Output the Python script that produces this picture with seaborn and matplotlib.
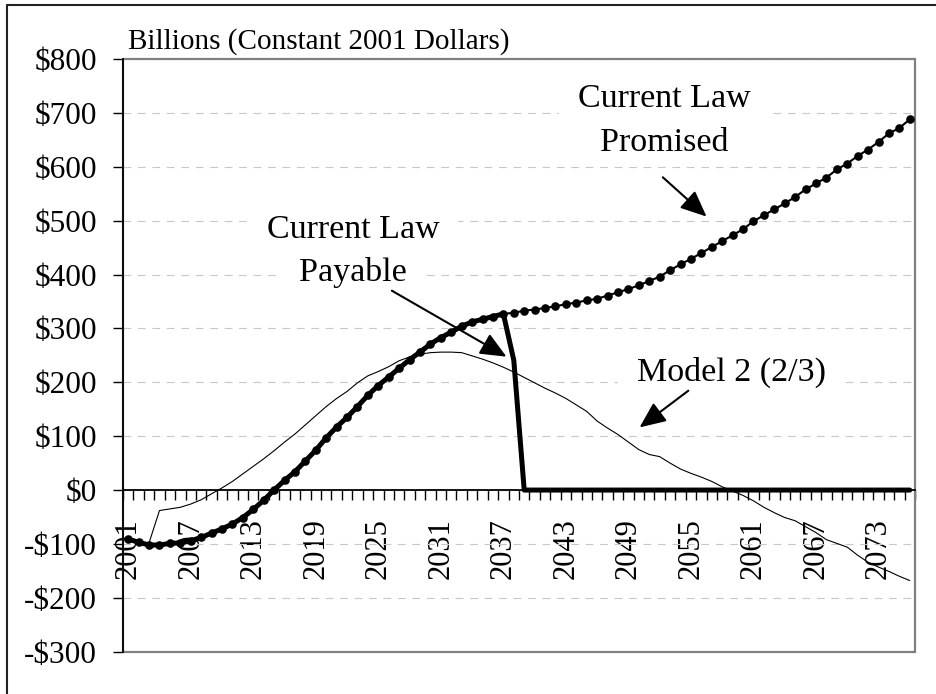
import matplotlib
matplotlib.use("Agg")
import matplotlib.pyplot as plt
import pandas as pd
import seaborn as sns
from matplotlib.lines import Line2D
from matplotlib.patches import Rectangle
from matplotlib.ticker import FixedLocator, FixedFormatter

# ---------------- data ----------------
years = list(range(2001, 2077))

promised = [
    -91, -97, -102, -102, -99, -98, -94, -88, -80, -72,
    -63, -51, -36, -19, 0, 18, 34, 54, 74, 97,
    117, 135, 155, 176, 194, 210, 226, 242, 256, 271,
    283, 293, 304, 312, 317, 322, 327, 329, 333, 335,
    338, 341, 345, 348, 352, 355, 361, 367, 373, 380,
    388, 396, 408, 419, 429, 440, 451, 462, 473, 484,
    499, 510, 521, 532, 544, 558, 569, 580, 595, 606,
    620, 632, 646, 662, 672, 688,
]

payable = [
    -91, -97, -102, -102, -99, -98, -94, -88, -80, -72,
    -63, -51, -36, -19, 0, 18, 34, 54, 74, 97,
    117, 135, 155, 176, 194, 210, 226, 242, 256, 271,
    283, 293, 304, 312, 317, 322, 327, 241, 0, 0,
    0, 0, 0, 0, 0, 0, 0, 0, 0, 0,
    0, 0, 0, 0, 0, 0, 0, 0, 0, 0,
    0, 0, 0, 0, 0, 0, 0, 0, 0, 0,
    0, 0, 0, 0, 0, 0,
]

model2 = [
    -91, -96, -98, -38, -35, -32, -26, -18, -7, 4,
    16, 30, 44, 58, 73, 89, 104, 121, 138, 155,
    170, 183, 199, 212, 220, 229, 240, 247, 252, 255,
    256, 256, 255, 249, 243, 236, 228, 219, 209, 199,
    189, 180, 170, 158, 146, 128, 115, 103, 89, 75,
    66, 62, 50, 39, 31, 24, 16, 6, -2, -10,
    -20, -32, -42, -51, -57, -68, -79, -92, -99, -106,
    -121, -134, -143, -151, -160, -168,
]

y_ticks = [800, 700, 600, 500, 400, 300, 200, 100, 0, -100, -200, -300]
y_tick_labels = ["$800", "$700", "$600", "$500", "$400", "$300", "$200",
                 "$100", "$0", "-$100", "-$200", "-$300"]
x_label_years = [2001, 2007, 2013, 2019, 2025, 2031, 2037, 2043, 2049,
                 2055, 2061, 2067, 2073]

title_text = "Billions (Constant 2001 Dollars)"

# ---------------- style ----------------
sns.set_style("white")
plt.rcParams["font.family"] = ["Liberation Serif", "DejaVu Serif"]

W, H = 937, 694
fig = plt.figure(figsize=(W / 100, H / 100), dpi=100)
ax = fig.add_axes([123 / W, 1 - 651.7 / H, 792 / W, (651.7 - 59) / H])

df = pd.DataFrame({"year": years, "promised": promised,
                   "payable": payable, "model2": model2})

sns.lineplot(data=df, x="year", y="model2", color="black", lw=0.8,
             ax=ax, zorder=4, legend=False)
sns.lineplot(data=df, x="year", y="payable", color="black", lw=3.6,
             solid_capstyle="round", solid_joinstyle="round",
             ax=ax, zorder=5, legend=False)
sns.lineplot(data=df, x="year", y="promised", color="black", lw=1.5,
             marker="o", markersize=6.2, markeredgecolor="black",
             markeredgewidth=0, ax=ax, zorder=6, legend=False)

ax.set_xlim(years[0] - 0.5, years[-1] + 0.5)
ax.set_ylim(-300, 800)
ax.set_xlabel("")
ax.set_ylabel("")

# spines / frame
for s in ["top", "right"]:
    ax.spines[s].set_visible(False)
ax.spines["left"].set_color("black")
ax.spines["left"].set_linewidth(1.3)
ax.spines["left"].set_zorder(7)
ax.spines["bottom"].set_position(("data", 0))
ax.spines["bottom"].set_color("black")
ax.spines["bottom"].set_linewidth(1.3)
ax.add_patch(Rectangle((0, 0), 1, 1, transform=ax.transAxes, fill=False,
                       edgecolor="#808080", lw=1.6, clip_on=False, zorder=1))

# grid
ax.set_axisbelow(True)
ax.yaxis.grid(True, color="#c8c8c8", linestyle=(0, (7, 6)), lw=0.8)
ax.xaxis.grid(False)

# y ticks
ax.yaxis.set_major_locator(FixedLocator(y_ticks))
ax.yaxis.set_major_formatter(FixedFormatter(y_tick_labels))
ax.tick_params(axis="y", which="major", left=True, direction="out",
               length=7.2, width=1.0, pad=11.5, labelsize=22.5,
               color="black", labelcolor="black")

# x ticks: labels at categories, tick marks between categories
ax.xaxis.set_major_locator(FixedLocator(x_label_years))
ax.xaxis.set_major_formatter(FixedFormatter([str(y) for y in x_label_years]))
ax.xaxis.set_minor_locator(FixedLocator([y - 0.5 for y in years] + [years[-1] + 0.5]))
ax.tick_params(axis="x", which="major", bottom=True, length=0, pad=20,
               labelsize=22, labelrotation=90, labelcolor="black")
ax.tick_params(axis="x", which="minor", bottom=True, direction="out",
               length=7.2, width=1.0, color="black")

# ---------------- annotations ----------------
box = dict(facecolor="white", edgecolor="none", boxstyle="square,pad=0.05")
txt_kw = dict(ha="center", va="baseline", fontsize=24.5, color="black",
              bbox=box, zorder=3)

ax.text(2052.45, 710.5, "  Current Law  ", **txt_kw)
ax.text(2052.45, 628.8, "  Promised  ", **txt_kw)
ax.text(2022.6, 468.0, "  Current Law  ", **txt_kw)
ax.text(2022.6, 388.7, "  Payable  ", **txt_kw)
ax.text(2058.9, 203.0, "  Model 2 (2/3)  ", **txt_kw)

arrow = dict(arrowstyle="-|>,head_length=0.8,head_width=0.35", color="black",
             lw=1.5, mutation_scale=20, shrinkA=0, shrinkB=0)
ax.annotate("", xy=(2056.5, 507.5), xytext=(2052.3, 580.5),
            arrowprops=arrow, zorder=8)
ax.annotate("", xy=(2037.3, 247.5), xytext=(2026.3, 370.0),
            arrowprops=arrow, zorder=8)
ax.annotate("", xy=(2050.07, 116.2), xytext=(2054.75, 184.4),
            arrowprops=arrow, zorder=8)

# title text
fig.text(128 / W, 1 - 48.3 / H, title_text, ha="left", va="baseline",
         fontsize=21, color="black")

# outer border (top and left visible)
fig.add_artist(Line2D([7.5 / W, 1], [1 - 5 / H, 1 - 5 / H], color="#222222", lw=1.5))
fig.add_artist(Line2D([7.5 / W, 7.5 / W], [0, 1 - 5 / H], color="#222222", lw=1.5))

fig.savefig("out.png", dpi=100)
